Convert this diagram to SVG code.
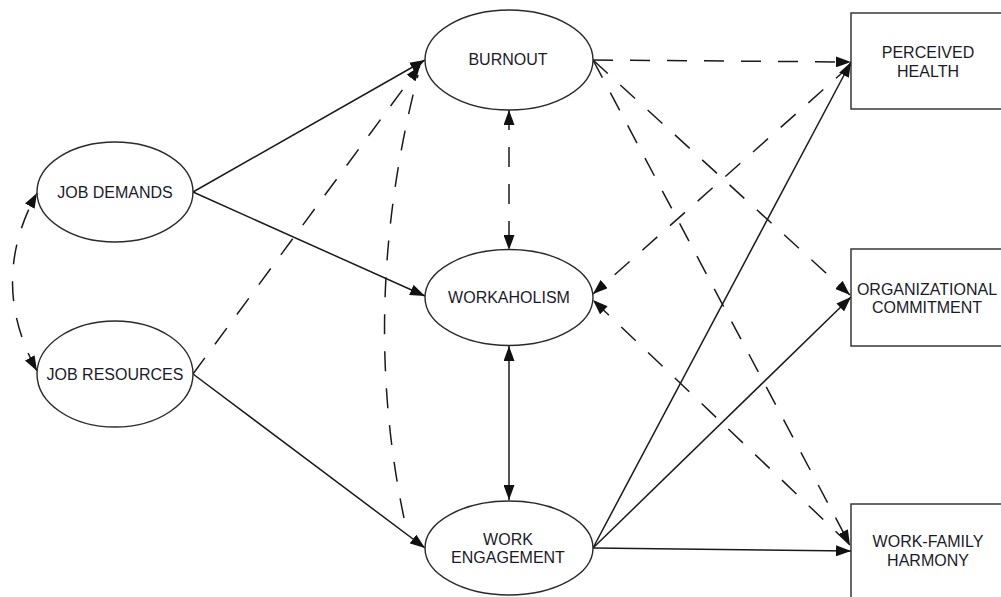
<svg xmlns="http://www.w3.org/2000/svg" width="1001" height="597" viewBox="0 0 1001 597">
  <style>
    .node { fill: #ffffff; stroke: #2a2a2a; stroke-width: 1.4; }
    .lbl { font-family: "Liberation Sans", Arial, sans-serif; font-size: 16px; fill: #1a1a2a; text-anchor: middle; }
    .solid { fill: none; stroke: #1a1a1a; stroke-width: 1.5; }
    .dash { fill: none; stroke: #1a1a1a; stroke-width: 1.5; stroke-dasharray: 20 17; }
  </style>
  <defs>
    <marker id="arrow" viewBox="0 0 15 11" refX="15" refY="5.5" markerWidth="15" markerHeight="11" markerUnits="userSpaceOnUse" orient="auto-start-reverse">
      <path d="M0,0 L15,5.5 L0,11 Z" fill="#111111"/>
    </marker>
  </defs>
  <rect width="1001" height="597" fill="#ffffff"/>

  <!-- paths between constructs -->
  <g id="connectors">
    <!-- job demands / job resources correlation -->
    <path class="dash" d="M37 371 Q-12 282 37 193" marker-start="url(#arrow)" marker-end="url(#arrow)"/>
    <!-- antecedents -->
    <line class="solid" x1="193" y1="192" x2="425" y2="60" marker-end="url(#arrow)"/>
    <line class="solid" x1="193" y1="192" x2="425" y2="296" marker-end="url(#arrow)"/>
    <line class="dash" x1="193" y1="374" x2="420" y2="66" marker-end="url(#arrow)"/>
    <line class="solid" x1="193" y1="374" x2="425" y2="548" marker-end="url(#arrow)"/>
    <!-- burnout / engagement covariance -->
    <path class="dash" d="M404 518 Q359 303 418 75"/>
    <!-- mediators -->
    <line class="dash" x1="509" y1="110" x2="509" y2="250" marker-start="url(#arrow)" marker-end="url(#arrow)"/>
    <line class="solid" x1="509" y1="346" x2="509" y2="500" marker-start="url(#arrow)" marker-end="url(#arrow)"/>
    <!-- burnout outcomes -->
    <line class="dash" x1="593" y1="60" x2="851" y2="62" marker-end="url(#arrow)"/>
    <line class="dash" x1="593" y1="60" x2="850" y2="295" marker-end="url(#arrow)"/>
    <line class="dash" x1="593" y1="60" x2="850" y2="545" marker-end="url(#arrow)"/>
    <!-- workaholism outcomes -->
    <line class="dash" x1="851" y1="65" x2="593" y2="294" marker-end="url(#arrow)"/>
    <line class="dash" x1="850" y1="545" x2="593" y2="300" marker-end="url(#arrow)"/>
    <!-- engagement outcomes -->
    <line class="solid" x1="593" y1="548" x2="851" y2="62" marker-end="url(#arrow)"/>
    <line class="solid" x1="593" y1="548" x2="851" y2="297" marker-end="url(#arrow)"/>
    <line class="solid" x1="593" y1="548" x2="851" y2="551" marker-end="url(#arrow)"/>
  </g>

  <g id="job-demands">
    <ellipse class="node" cx="115" cy="192" rx="78" ry="50"/>
    <text class="lbl" x="115" y="198">JOB DEMANDS</text>
  </g>
  <g id="job-resources">
    <ellipse class="node" cx="115" cy="374" rx="78" ry="53"/>
    <text class="lbl" x="115" y="380">JOB RESOURCES</text>
  </g>
  <g id="burnout">
    <ellipse class="node" cx="509" cy="60" rx="84" ry="50"/>
    <text class="lbl" x="508" y="65">BURNOUT</text>
  </g>
  <g id="workaholism">
    <ellipse class="node" cx="509" cy="297.5" rx="84" ry="48"/>
    <text class="lbl" x="509" y="303">WORKAHOLISM</text>
  </g>
  <g id="work-engagement">
    <ellipse class="node" cx="509" cy="548" rx="84" ry="47"/>
    <text class="lbl" x="508" y="545">WORK</text>
    <text class="lbl" x="508" y="563">ENGAGEMENT</text>
  </g>
  <g id="perceived-health">
    <rect class="node" x="851" y="13" width="200" height="96"/>
    <text class="lbl" x="928" y="58">PERCEIVED</text>
    <text class="lbl" x="928" y="77">HEALTH</text>
  </g>
  <g id="organizational-commitment">
    <rect class="node" x="851" y="249" width="200" height="97"/>
    <text class="lbl" x="927" y="295">ORGANIZATIONAL</text>
    <text class="lbl" x="927" y="313">COMMITMENT</text>
  </g>
  <g id="work-family-harmony">
    <rect class="node" x="851" y="504" width="200" height="120"/>
    <text class="lbl" x="928" y="547">WORK-FAMILY</text>
    <text class="lbl" x="928" y="566">HARMONY</text>
  </g>
</svg>
